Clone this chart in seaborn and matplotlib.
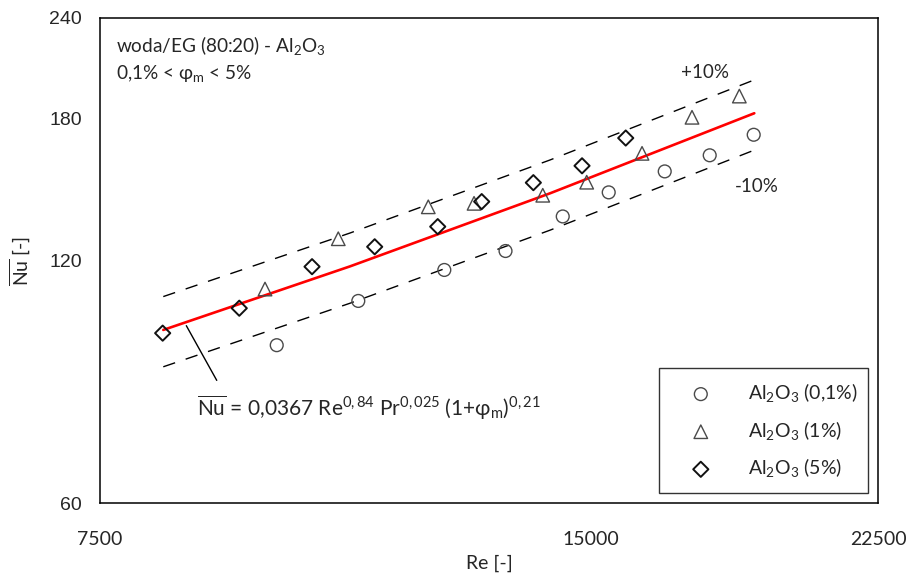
"""
Nu vs Re for woda/EG (80:20) - Al2O3 nanofluid, with correlation and +/-10% band
"""

import matplotlib.pyplot as plt
import matplotlib.ticker as mticker
import seaborn as sns

# -------------------------
# Data
# -------------------------
re_01 = [9626, 10801, 12196, 13297, 14416, 15383, 16649, 17741, 18878]
nu_01 = [94.2, 106.9, 116.8, 123.3, 136.1, 145.8, 154.8, 162.1, 171.9]

re_1 = [9468, 10500, 11923, 12719, 14015, 14912, 16124, 17303, 18499]
nu_1 = [110.6, 127.7, 139.9, 141.3, 144.6, 150.1, 163.0, 180.7, 192.0]

re_5 = [8194, 9130, 10118, 11054, 12083, 12857, 13830, 14814, 15757]
nu_5 = [97.5, 104.7, 117.9, 124.8, 132.2, 142.0, 149.9, 157.3, 170.3]

# correlation line
re_fit = [8201, 10675, 14159, 18894]
nu_fit = [98.4, 118.0, 145.4, 182.8]
band = 0.10

x_ticks = [7500, 15000, 22500]
y_ticks = [60, 120, 180, 240]
series_labels = [r"Al$_2$O$_3$ (0,1%)", r"Al$_2$O$_3$ (1%)", r"Al$_2$O$_3$ (5%)"]

# -------------------------
# Style
# -------------------------
sns.set_style("white")
plt.rcParams["font.family"] = ["Lato", "DejaVu Sans"]
plt.rcParams["mathtext.fontset"] = "custom"
plt.rcParams["mathtext.rm"] = "Lato"
plt.rcParams["mathtext.it"] = "Lato:italic"
plt.rcParams["mathtext.bf"] = "Lato:bold"

fig = plt.figure(figsize=(9.07, 5.76), dpi=100)
ax = fig.add_axes([100 / 907, 73 / 576, 778 / 907, 485 / 576])

# -------------------------
# Lines
# -------------------------
upper = [v * (1 + band) for v in nu_fit]
lower = [v * (1 - band) for v in nu_fit]
sns.lineplot(x=re_fit, y=upper, ax=ax, color="black", lw=1, linestyle=(0, (9, 8)))
sns.lineplot(x=re_fit, y=lower, ax=ax, color="black", lw=1, linestyle=(0, (9, 8)))
sns.lineplot(x=re_fit, y=nu_fit, ax=ax, color="#ff0000", lw=1.9)

# -------------------------
# Points
# -------------------------
sns.scatterplot(x=re_01, y=nu_01, ax=ax, marker="o", s=85, facecolor="none",
                edgecolor="#4a4a4a", linewidth=1, label=series_labels[0], zorder=3)
sns.scatterplot(x=re_1, y=nu_1, ax=ax, marker="^", s=95, facecolor="none",
                edgecolor="#4a4a4a", linewidth=1, label=series_labels[1], zorder=3)
sns.scatterplot(x=re_5, y=nu_5, ax=ax, marker="D", s=60, facecolor="none",
                edgecolor="#111111", linewidth=1.4, label=series_labels[2], zorder=3)

# -------------------------
# Axes
# -------------------------
ax.set_xscale("log")
ax.set_yscale("log")
ax.set_xlim(7500, 22500)
ax.set_ylim(60, 240)
ax.xaxis.set_major_locator(mticker.FixedLocator(x_ticks))
ax.yaxis.set_major_locator(mticker.FixedLocator(y_ticks))
ax.xaxis.set_minor_locator(mticker.NullLocator())
ax.yaxis.set_minor_locator(mticker.NullLocator())
ax.set_xticklabels([str(v) for v in x_ticks], fontsize=14)
ax.set_yticklabels([str(v) for v in y_ticks], fontsize=14, family="Liberation Sans")
ax.tick_params(axis="x", direction="out", length=9, width=1, pad=11, color="black")
ax.tick_params(axis="y", direction="out", length=10, width=1, pad=3, color="black")
for s in ax.spines.values():
    s.set_color("black")
    s.set_linewidth(1.1)

ax.set_xlabel("Re [-]", fontsize=14, labelpad=5)
ax.set_ylabel(r"$\overline{\mathrm{Nu}}$ [-]", fontsize=14, labelpad=12)

# -------------------------
# Annotations
# -------------------------
ax.text(0.02, 0.944, r"woda/EG (80:20) - Al$_2$O$_3$", transform=ax.transAxes,
        fontsize=13.7, va="center", ha="left")
ax.text(0.02, 0.886, r"0,1% < φ$_\mathrm{m}$ < 5%", transform=ax.transAxes,
        fontsize=13.7, va="center", ha="left")
ax.text(0.777, 0.887, "+10%", transform=ax.transAxes, fontsize=13.5, va="center", ha="center")
ax.text(0.844, 0.652, "-10%", transform=ax.transAxes, fontsize=13.5, va="center", ha="center")
ax.text(0.1247, 0.196,
        r"$\overline{\mathrm{Nu}}$ = 0,0367 Re$^{\mathrm{0,84}}$ Pr$^{\mathrm{0,025}}$ (1+φ$_\mathrm{m}$)$^{\mathrm{0,21}}$",
        transform=ax.transAxes, fontsize=15, va="center", ha="left")
ax.annotate("", xy=(8456, 100.3), xytext=(8861, 84.6),
            arrowprops=dict(arrowstyle="-", lw=1, color="black"))

# -------------------------
# Legend
# -------------------------
leg = ax.legend(loc="lower left", bbox_to_anchor=(0.7185, 0.0206, 0.2687, 0.2619),
                mode="expand", borderaxespad=0, fontsize=14, frameon=True,
                fancybox=False, edgecolor="black", borderpad=0.7,
                handlelength=2.9, handletextpad=1.0, labelspacing=0.75)
leg.get_frame().set_linewidth(1)

fig.savefig("out.png", dpi=100)
